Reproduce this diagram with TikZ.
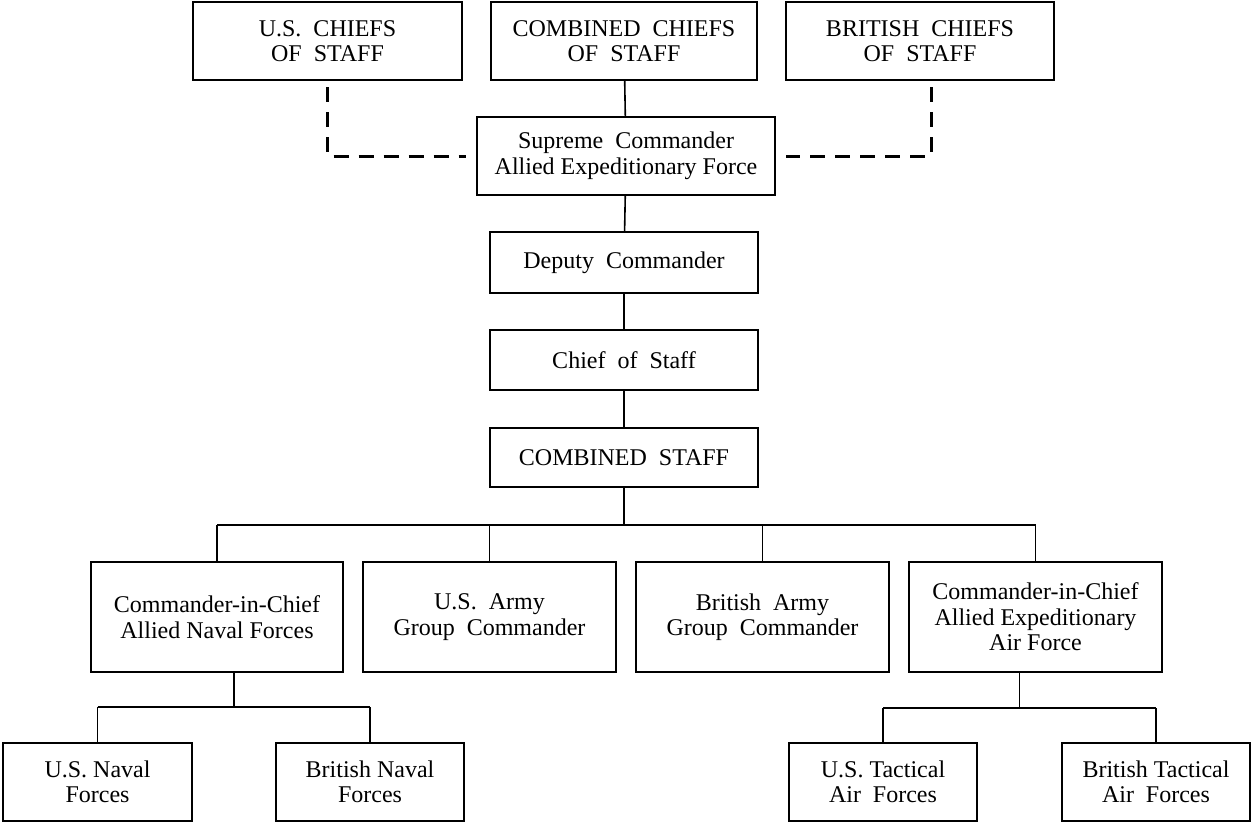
\documentclass[tikz,border=0pt]{standalone}
\usepackage{fontspec}
\setmainfont{Liberation Serif}
\usepackage{tikz}
\usetikzlibrary{positioning,calc}

\begin{document}
\begin{tikzpicture}
            [x=1pt,y=-1pt,
             org box/.style={draw,line width=2.2pt,align=center,inner sep=0pt,minimum height=78pt,font=\fontsize{24}{25.5}\selectfont},
             wide box/.style={org box,minimum width=268pt},
             link/.style={line width=1.6pt},
             liaison/.style={line width=3pt,dash pattern=on 15pt off 10pt}]
            \useasboundingbox (0,0) rectangle (1252,824);

            % top level
            \node[org box,minimum width=269pt] (uscs) at (327.5,41) {U.S.\ \ CHIEFS\\OF\ \ STAFF};
            \node[org box,minimum width=266pt] (ccs) at (624,41) {COMBINED\ \ CHIEFS\\OF\ \ STAFF};
            \node[org box,minimum width=268pt] (bcs) at (920,41) {BRITISH\ \ CHIEFS\\OF\ \ STAFF};
            \node[org box,minimum width=298pt] (sc) at (626,156) {Supreme\ \ Commander\\Allied Expeditionary Force};

            % headquarters
            \node[wide box,minimum height=61pt] (dep) at (624,262.5) {Deputy\ \ Commander};
            \node[wide box,minimum height=60pt] (cos) at (624,360) {Chief\ \ of\ \ Staff};
            \node[wide box,minimum height=59pt] (cst) at (624,457.5) {COMBINED\ \ STAFF};

            % commanders
            \node[org box,minimum width=252pt,minimum height=110pt] (naval) at (217,617) {Commander-in-Chief\\Allied Naval Forces};
            \node[org box,minimum width=253pt,minimum height=110pt] (usarmy) at (489.5,617) {U.S.\ \ Army\\Group\ \ Commander};
            \node[org box,minimum width=253pt,minimum height=110pt] (brarmy) at (762.5,617) {British\ \ Army\\Group\ \ Commander};
            \node[org box,minimum width=253pt,minimum height=110pt] (air) at (1035.5,617) {Commander-in-Chief\\Allied Expeditionary\\Air Force};

            % forces
            \node[org box,minimum width=189pt] (usnav) at (97.5,782) {U.S.\ Naval\\Forces};
            \node[org box,minimum width=188pt] (brnav) at (370,782) {British Naval\\Forces};
            \node[org box,minimum width=188pt] (ustac) at (883,782) {U.S.\ Tactical\\Air\ \ Forces};
            \node[org box,minimum width=188pt] (brtac) at (1156,782) {British Tactical\\Air\ \ Forces};

            \coordinate (bus) at (0,525);
            \coordinate (navbus) at (0,707);
            \coordinate (airbus) at (0,708);
            \coordinate (navmid) at ($(usnav.north)!0.5!(brnav.north)$);
            \coordinate (airmid) at ($(ustac.north)!0.5!(brtac.north)$);
            \coordinate (bcsdrop) at ([xshift=11pt]bcs.south);

            \draw[link] (ccs) -- (sc);
            \draw[liaison] ([yshift=-6pt]uscs.south) -- (uscs.south |- sc.west) -- ([xshift=-10pt]sc.west);
            \draw[liaison] ([yshift=-6pt]bcsdrop) -- (bcsdrop |- sc.east) -- ([xshift=10pt]sc.east);
            \draw[link] (sc) -- (dep);
            \draw[link] (dep) -- (cos);
            \draw[link] (cos) -- (cst);

            \draw[link] (cst.south) -- (cst.south |- bus);
            \draw[link] (naval.north |- bus) -- (air.north |- bus);
            \foreach \n in {naval,usarmy,brarmy,air}
                \draw[link] (\n.north) -- (\n.north |- bus);

            \draw[link] (navmid |- naval.south) -- (navmid |- navbus);
            \draw[link] (usnav.north |- navbus) -- (brnav.north |- navbus);
            \draw[link] (airmid |- air.south) -- (airmid |- airbus);
            \draw[link] (ustac.north |- airbus) -- (brtac.north |- airbus);
            \foreach \n in {usnav,brnav}
                \draw[link] (\n.north) -- (\n.north |- navbus);
            \foreach \n in {ustac,brtac}
                \draw[link] (\n.north) -- (\n.north |- airbus);
        \end{tikzpicture}
\end{document}
